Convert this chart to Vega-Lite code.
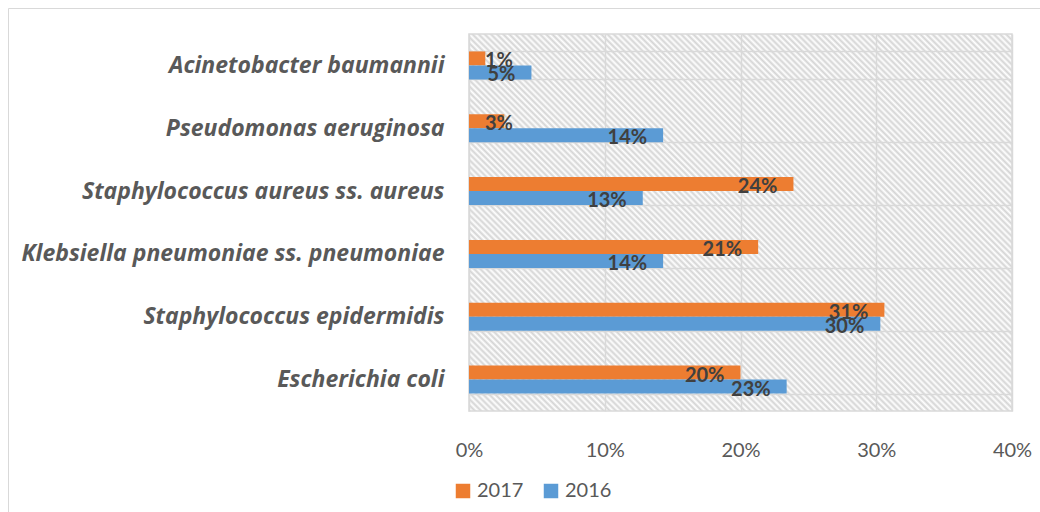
{
  "$schema": "https://vega.github.io/schema/vega-lite/v6.json",
  "width": 543,
  "height": 377,
  "autosize": {"type": "none"},
  "padding": {"left": 469, "top": 34, "right": 28, "bottom": 101},
  "background": "white",
  "config": {
    "font": "Lato",
    "view": {
      "stroke": "#d9d9d9",
      "strokeWidth": 1.5,
      "fill": {
        "gradient": "linear", "x1": 0, "y1": 1, "x2": 1.14323, "y2": 0.20626,
        "stops": [
{"offset":0,"color":"#d4d4d4"},{"offset":0.0033,"color":"#fff"},{"offset":0.0067,"color":"#d4d4d4"},
{"offset":0.01,"color":"#fff"},{"offset":0.0133,"color":"#d4d4d4"},{"offset":0.0167,"color":"#fff"},
{"offset":0.02,"color":"#d4d4d4"},{"offset":0.0233,"color":"#fff"},{"offset":0.0267,"color":"#d4d4d4"},
{"offset":0.03,"color":"#fff"},{"offset":0.0333,"color":"#d4d4d4"},{"offset":0.0367,"color":"#fff"},
{"offset":0.04,"color":"#d4d4d4"},{"offset":0.0433,"color":"#fff"},{"offset":0.0467,"color":"#d4d4d4"},
{"offset":0.05,"color":"#fff"},{"offset":0.0533,"color":"#d4d4d4"},{"offset":0.0567,"color":"#fff"},
{"offset":0.06,"color":"#d4d4d4"},{"offset":0.0633,"color":"#fff"},{"offset":0.0667,"color":"#d4d4d4"},
{"offset":0.07,"color":"#fff"},{"offset":0.0733,"color":"#d4d4d4"},{"offset":0.0767,"color":"#fff"},
{"offset":0.08,"color":"#d4d4d4"},{"offset":0.0833,"color":"#fff"},{"offset":0.0867,"color":"#d4d4d4"},
{"offset":0.09,"color":"#fff"},{"offset":0.0933,"color":"#d4d4d4"},{"offset":0.0967,"color":"#fff"},
{"offset":0.1,"color":"#d4d4d4"},{"offset":0.1033,"color":"#fff"},{"offset":0.1067,"color":"#d4d4d4"},
{"offset":0.11,"color":"#fff"},{"offset":0.1133,"color":"#d4d4d4"},{"offset":0.1167,"color":"#fff"},
{"offset":0.12,"color":"#d4d4d4"},{"offset":0.1233,"color":"#fff"},{"offset":0.1267,"color":"#d4d4d4"},
{"offset":0.13,"color":"#fff"},{"offset":0.1333,"color":"#d4d4d4"},{"offset":0.1367,"color":"#fff"},
{"offset":0.14,"color":"#d4d4d4"},{"offset":0.1433,"color":"#fff"},{"offset":0.1467,"color":"#d4d4d4"},
{"offset":0.15,"color":"#fff"},{"offset":0.1533,"color":"#d4d4d4"},{"offset":0.1567,"color":"#fff"},
{"offset":0.16,"color":"#d4d4d4"},{"offset":0.1633,"color":"#fff"},{"offset":0.1667,"color":"#d4d4d4"},
{"offset":0.17,"color":"#fff"},{"offset":0.1733,"color":"#d4d4d4"},{"offset":0.1767,"color":"#fff"},
{"offset":0.18,"color":"#d4d4d4"},{"offset":0.1833,"color":"#fff"},{"offset":0.1867,"color":"#d4d4d4"},
{"offset":0.19,"color":"#fff"},{"offset":0.1933,"color":"#d4d4d4"},{"offset":0.1967,"color":"#fff"},
{"offset":0.2,"color":"#d4d4d4"},{"offset":0.2033,"color":"#fff"},{"offset":0.2067,"color":"#d4d4d4"},
{"offset":0.21,"color":"#fff"},{"offset":0.2133,"color":"#d4d4d4"},{"offset":0.2167,"color":"#fff"},
{"offset":0.22,"color":"#d4d4d4"},{"offset":0.2233,"color":"#fff"},{"offset":0.2267,"color":"#d4d4d4"},
{"offset":0.23,"color":"#fff"},{"offset":0.2333,"color":"#d4d4d4"},{"offset":0.2367,"color":"#fff"},
{"offset":0.24,"color":"#d4d4d4"},{"offset":0.2433,"color":"#fff"},{"offset":0.2467,"color":"#d4d4d4"},
{"offset":0.25,"color":"#fff"},{"offset":0.2533,"color":"#d4d4d4"},{"offset":0.2567,"color":"#fff"},
{"offset":0.26,"color":"#d4d4d4"},{"offset":0.2633,"color":"#fff"},{"offset":0.2667,"color":"#d4d4d4"},
{"offset":0.27,"color":"#fff"},{"offset":0.2733,"color":"#d4d4d4"},{"offset":0.2767,"color":"#fff"},
{"offset":0.28,"color":"#d4d4d4"},{"offset":0.2833,"color":"#fff"},{"offset":0.2867,"color":"#d4d4d4"},
{"offset":0.29,"color":"#fff"},{"offset":0.2933,"color":"#d4d4d4"},{"offset":0.2967,"color":"#fff"},
{"offset":0.3,"color":"#d4d4d4"},{"offset":0.3033,"color":"#fff"},{"offset":0.3067,"color":"#d4d4d4"},
{"offset":0.31,"color":"#fff"},{"offset":0.3133,"color":"#d4d4d4"},{"offset":0.3167,"color":"#fff"},
{"offset":0.32,"color":"#d4d4d4"},{"offset":0.3233,"color":"#fff"},{"offset":0.3267,"color":"#d4d4d4"},
{"offset":0.33,"color":"#fff"},{"offset":0.3333,"color":"#d4d4d4"},{"offset":0.3367,"color":"#fff"},
{"offset":0.34,"color":"#d4d4d4"},{"offset":0.3433,"color":"#fff"},{"offset":0.3467,"color":"#d4d4d4"},
{"offset":0.35,"color":"#fff"},{"offset":0.3533,"color":"#d4d4d4"},{"offset":0.3567,"color":"#fff"},
{"offset":0.36,"color":"#d4d4d4"},{"offset":0.3633,"color":"#fff"},{"offset":0.3667,"color":"#d4d4d4"},
{"offset":0.37,"color":"#fff"},{"offset":0.3733,"color":"#d4d4d4"},{"offset":0.3767,"color":"#fff"},
{"offset":0.38,"color":"#d4d4d4"},{"offset":0.3833,"color":"#fff"},{"offset":0.3867,"color":"#d4d4d4"},
{"offset":0.39,"color":"#fff"},{"offset":0.3933,"color":"#d4d4d4"},{"offset":0.3967,"color":"#fff"},
{"offset":0.4,"color":"#d4d4d4"},{"offset":0.4033,"color":"#fff"},{"offset":0.4067,"color":"#d4d4d4"},
{"offset":0.41,"color":"#fff"},{"offset":0.4133,"color":"#d4d4d4"},{"offset":0.4167,"color":"#fff"},
{"offset":0.42,"color":"#d4d4d4"},{"offset":0.4233,"color":"#fff"},{"offset":0.4267,"color":"#d4d4d4"},
{"offset":0.43,"color":"#fff"},{"offset":0.4333,"color":"#d4d4d4"},{"offset":0.4367,"color":"#fff"},
{"offset":0.44,"color":"#d4d4d4"},{"offset":0.4433,"color":"#fff"},{"offset":0.4467,"color":"#d4d4d4"},
{"offset":0.45,"color":"#fff"},{"offset":0.4533,"color":"#d4d4d4"},{"offset":0.4567,"color":"#fff"},
{"offset":0.46,"color":"#d4d4d4"},{"offset":0.4633,"color":"#fff"},{"offset":0.4667,"color":"#d4d4d4"},
{"offset":0.47,"color":"#fff"},{"offset":0.4733,"color":"#d4d4d4"},{"offset":0.4767,"color":"#fff"},
{"offset":0.48,"color":"#d4d4d4"},{"offset":0.4833,"color":"#fff"},{"offset":0.4867,"color":"#d4d4d4"},
{"offset":0.49,"color":"#fff"},{"offset":0.4933,"color":"#d4d4d4"},{"offset":0.4967,"color":"#fff"},
{"offset":0.5,"color":"#d4d4d4"},{"offset":0.5033,"color":"#fff"},{"offset":0.5067,"color":"#d4d4d4"},
{"offset":0.51,"color":"#fff"},{"offset":0.5133,"color":"#d4d4d4"},{"offset":0.5167,"color":"#fff"},
{"offset":0.52,"color":"#d4d4d4"},{"offset":0.5233,"color":"#fff"},{"offset":0.5267,"color":"#d4d4d4"},
{"offset":0.53,"color":"#fff"},{"offset":0.5333,"color":"#d4d4d4"},{"offset":0.5367,"color":"#fff"},
{"offset":0.54,"color":"#d4d4d4"},{"offset":0.5433,"color":"#fff"},{"offset":0.5467,"color":"#d4d4d4"},
{"offset":0.55,"color":"#fff"},{"offset":0.5533,"color":"#d4d4d4"},{"offset":0.5567,"color":"#fff"},
{"offset":0.56,"color":"#d4d4d4"},{"offset":0.5633,"color":"#fff"},{"offset":0.5667,"color":"#d4d4d4"},
{"offset":0.57,"color":"#fff"},{"offset":0.5733,"color":"#d4d4d4"},{"offset":0.5767,"color":"#fff"},
{"offset":0.58,"color":"#d4d4d4"},{"offset":0.5833,"color":"#fff"},{"offset":0.5867,"color":"#d4d4d4"},
{"offset":0.59,"color":"#fff"},{"offset":0.5933,"color":"#d4d4d4"},{"offset":0.5967,"color":"#fff"},
{"offset":0.6,"color":"#d4d4d4"},{"offset":0.6033,"color":"#fff"},{"offset":0.6067,"color":"#d4d4d4"},
{"offset":0.61,"color":"#fff"},{"offset":0.6133,"color":"#d4d4d4"},{"offset":0.6167,"color":"#fff"},
{"offset":0.62,"color":"#d4d4d4"},{"offset":0.6233,"color":"#fff"},{"offset":0.6267,"color":"#d4d4d4"},
{"offset":0.63,"color":"#fff"},{"offset":0.6333,"color":"#d4d4d4"},{"offset":0.6367,"color":"#fff"},
{"offset":0.64,"color":"#d4d4d4"},{"offset":0.6433,"color":"#fff"},{"offset":0.6467,"color":"#d4d4d4"},
{"offset":0.65,"color":"#fff"},{"offset":0.6533,"color":"#d4d4d4"},{"offset":0.6567,"color":"#fff"},
{"offset":0.66,"color":"#d4d4d4"},{"offset":0.6633,"color":"#fff"},{"offset":0.6667,"color":"#d4d4d4"},
{"offset":0.67,"color":"#fff"},{"offset":0.6733,"color":"#d4d4d4"},{"offset":0.6767,"color":"#fff"},
{"offset":0.68,"color":"#d4d4d4"},{"offset":0.6833,"color":"#fff"},{"offset":0.6867,"color":"#d4d4d4"},
{"offset":0.69,"color":"#fff"},{"offset":0.6933,"color":"#d4d4d4"},{"offset":0.6967,"color":"#fff"},
{"offset":0.7,"color":"#d4d4d4"},{"offset":0.7033,"color":"#fff"},{"offset":0.7067,"color":"#d4d4d4"},
{"offset":0.71,"color":"#fff"},{"offset":0.7133,"color":"#d4d4d4"},{"offset":0.7167,"color":"#fff"},
{"offset":0.72,"color":"#d4d4d4"},{"offset":0.7233,"color":"#fff"},{"offset":0.7267,"color":"#d4d4d4"},
{"offset":0.73,"color":"#fff"},{"offset":0.7333,"color":"#d4d4d4"},{"offset":0.7367,"color":"#fff"},
{"offset":0.74,"color":"#d4d4d4"},{"offset":0.7433,"color":"#fff"},{"offset":0.7467,"color":"#d4d4d4"},
{"offset":0.75,"color":"#fff"},{"offset":0.7533,"color":"#d4d4d4"},{"offset":0.7567,"color":"#fff"},
{"offset":0.76,"color":"#d4d4d4"},{"offset":0.7633,"color":"#fff"},{"offset":0.7667,"color":"#d4d4d4"},
{"offset":0.77,"color":"#fff"},{"offset":0.7733,"color":"#d4d4d4"},{"offset":0.7767,"color":"#fff"},
{"offset":0.78,"color":"#d4d4d4"},{"offset":0.7833,"color":"#fff"},{"offset":0.7867,"color":"#d4d4d4"},
{"offset":0.79,"color":"#fff"},{"offset":0.7933,"color":"#d4d4d4"},{"offset":0.7967,"color":"#fff"},
{"offset":0.8,"color":"#d4d4d4"},{"offset":0.8033,"color":"#fff"},{"offset":0.8067,"color":"#d4d4d4"},
{"offset":0.81,"color":"#fff"},{"offset":0.8133,"color":"#d4d4d4"},{"offset":0.8167,"color":"#fff"},
{"offset":0.82,"color":"#d4d4d4"},{"offset":0.8233,"color":"#fff"},{"offset":0.8267,"color":"#d4d4d4"},
{"offset":0.83,"color":"#fff"},{"offset":0.8333,"color":"#d4d4d4"},{"offset":0.8367,"color":"#fff"},
{"offset":0.84,"color":"#d4d4d4"},{"offset":0.8433,"color":"#fff"},{"offset":0.8467,"color":"#d4d4d4"},
{"offset":0.85,"color":"#fff"},{"offset":0.8533,"color":"#d4d4d4"},{"offset":0.8567,"color":"#fff"},
{"offset":0.86,"color":"#d4d4d4"},{"offset":0.8633,"color":"#fff"},{"offset":0.8667,"color":"#d4d4d4"},
{"offset":0.87,"color":"#fff"},{"offset":0.8733,"color":"#d4d4d4"},{"offset":0.8767,"color":"#fff"},
{"offset":0.88,"color":"#d4d4d4"},{"offset":0.8833,"color":"#fff"},{"offset":0.8867,"color":"#d4d4d4"},
{"offset":0.89,"color":"#fff"},{"offset":0.8933,"color":"#d4d4d4"},{"offset":0.8967,"color":"#fff"},
{"offset":0.9,"color":"#d4d4d4"},{"offset":0.9033,"color":"#fff"},{"offset":0.9067,"color":"#d4d4d4"},
{"offset":0.91,"color":"#fff"},{"offset":0.9133,"color":"#d4d4d4"},{"offset":0.9167,"color":"#fff"},
{"offset":0.92,"color":"#d4d4d4"},{"offset":0.9233,"color":"#fff"},{"offset":0.9267,"color":"#d4d4d4"},
{"offset":0.93,"color":"#fff"},{"offset":0.9333,"color":"#d4d4d4"},{"offset":0.9367,"color":"#fff"},
{"offset":0.94,"color":"#d4d4d4"},{"offset":0.9433,"color":"#fff"},{"offset":0.9467,"color":"#d4d4d4"},
{"offset":0.95,"color":"#fff"},{"offset":0.9533,"color":"#d4d4d4"},{"offset":0.9567,"color":"#fff"},
{"offset":0.96,"color":"#d4d4d4"},{"offset":0.9633,"color":"#fff"},{"offset":0.9667,"color":"#d4d4d4"},
{"offset":0.97,"color":"#fff"},{"offset":0.9733,"color":"#d4d4d4"},{"offset":0.9767,"color":"#fff"},
{"offset":0.98,"color":"#d4d4d4"},{"offset":0.9833,"color":"#fff"},{"offset":0.9867,"color":"#d4d4d4"},
{"offset":0.99,"color":"#fff"},{"offset":0.9933,"color":"#d4d4d4"},{"offset":0.9967,"color":"#fff"},
{"offset":1,"color":"#d4d4d4"}
        ]
      }
    },
    "axis": {"gridColor": "#d9d9d9", "gridWidth": 1.5, "domain": false, "ticks": false}
  },
  "data": {
    "values": [
      {"organism": "Acinetobacter baumannii", "year": "2017", "value": 0.012},
      {"organism": "Acinetobacter baumannii", "year": "2016", "value": 0.046},
      {"organism": "Pseudomonas aeruginosa", "year": "2017", "value": 0.026},
      {"organism": "Pseudomonas aeruginosa", "year": "2016", "value": 0.143},
      {"organism": "Staphylococcus aureus ss. aureus", "year": "2017", "value": 0.239},
      {"organism": "Staphylococcus aureus ss. aureus", "year": "2016", "value": 0.128},
      {"organism": "Klebsiella pneumoniae ss. pneumoniae", "year": "2017", "value": 0.213},
      {"organism": "Klebsiella pneumoniae ss. pneumoniae", "year": "2016", "value": 0.143},
      {"organism": "Staphylococcus epidermidis", "year": "2017", "value": 0.306},
      {"organism": "Staphylococcus epidermidis", "year": "2016", "value": 0.303},
      {"organism": "Escherichia coli", "year": "2017", "value": 0.2},
      {"organism": "Escherichia coli", "year": "2016", "value": 0.234}
    ]
  },
  "encoding": {
    "y": {
      "field": "organism",
      "type": "nominal",
      "sort": ["Acinetobacter baumannii", "Pseudomonas aeruginosa", "Staphylococcus aureus ss. aureus", "Klebsiella pneumoniae ss. pneumoniae", "Staphylococcus epidermidis", "Escherichia coli"],
      "scale": {"paddingInner": 0.555, "paddingOuter": 0.2775},
      "axis": {
        "title": null,
        "grid": true,
        "tickBand": "extent",
        "labelFont": "Open Sans",
        "labelFontStyle": "italic",
        "labelFontWeight": "bold",
        "labelFontSize": 23,
        "labelColor": "#595959",
        "labelPadding": 25,
        "labelLimit": 600
      }
    },
    "yOffset": {"field": "year", "type": "nominal", "sort": ["2017", "2016"]}
  },
  "layer": [
    {
      "mark": {"type": "bar"},
      "encoding": {
        "x": {
          "field": "value",
          "type": "quantitative",
          "scale": {"domain": [0, 0.4]},
          "axis": {
            "title": null,
            "values": [0, 0.1, 0.2, 0.3, 0.4],
            "format": ".0%",
            "labelFlush": false,
            "labelFontSize": 20,
            "labelColor": "#595959",
            "labelBaseline": "alphabetic",
            "labelPadding": 45
          }
        },
        "color": {
          "field": "year",
          "type": "nominal",
          "scale": {"domain": ["2017", "2016"], "range": ["#ED7D31", "#5B9BD5"]},
          "legend": {
            "orient": "none",
            "legendX": -461,
            "legendY": -26,
            "padding": 449,
            "strokeColor": "#d9d9d9",
            "title": " ",
            "titleFontSize": 20,
            "titlePadding": 4,
            "direction": "horizontal",
            "symbolType": "square",
            "symbolSize": 210,
            "symbolStrokeWidth": 0,
            "symbolOffset": -4,
            "labelFontSize": 20,
            "labelColor": "#595959",
            "labelOffset": 4,
            "columnPadding": 19
          }
        }
      }
    },
    {
      "transform": [{"filter": "datum.value >= 0.04"}],
      "mark": {"type": "text", "align": "right", "dx": -16, "dy": 9, "baseline": "alphabetic", "font": "Lato", "fontWeight": "bold", "fontSize": 20, "color": "#404040"},
      "encoding": {
        "x": {"field": "value", "type": "quantitative"},
        "text": {"field": "value", "type": "quantitative", "format": ".0%"}
      }
    },
    {
      "transform": [{"filter": "datum.value < 0.04"}],
      "mark": {"type": "text", "align": "left", "dx": 16, "dy": 9, "baseline": "alphabetic", "font": "Lato", "fontWeight": "bold", "fontSize": 20, "color": "#404040"},
      "encoding": {
        "x": {"datum": 0, "type": "quantitative"},
        "text": {"field": "value", "type": "quantitative", "format": ".0%"}
      }
    }
  ]
}
